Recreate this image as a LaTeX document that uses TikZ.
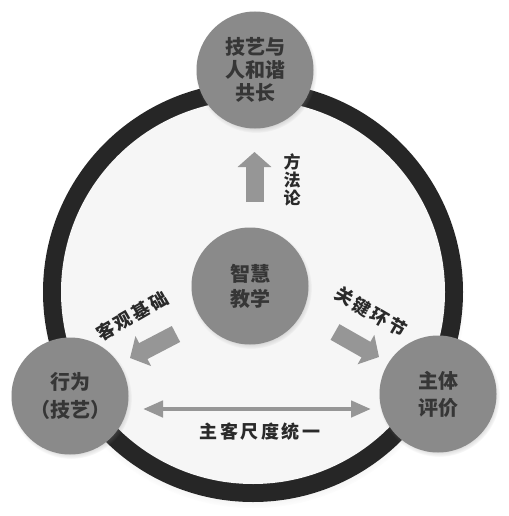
\documentclass[tikz,border=0pt]{standalone}
\usepackage{fontspec}
\newfontfamily\cjk{Noto Sans CJK SC}
\usetikzlibrary{arrows.meta,shadows,fadings}
\definecolor{ringc}{HTML}{262626}
\definecolor{innerc}{HTML}{F6F6F6}
\definecolor{circc}{HTML}{8A8A8A}
\definecolor{txtc}{HTML}{363636}
\definecolor{arrc}{HTML}{969696}
\definecolor{lblc}{HTML}{2A2A2A}
\newcommand\gapc{\hspace{2.5pt}}
\tikzset{
  circ/.style={circle, fill=circc, minimum size=117pt, inner sep=0pt, align=center,
    text=txtc, circular drop shadow={shadow scale=1.04, opacity=0.45, shadow xshift=1pt, shadow yshift=-2pt}},
  blockarr/.style={draw=arrc, line width=18pt, -{Triangle[length=15pt,width=33pt]}},
  dblarr/.style={draw=arrc, line width=4.5pt, {Triangle[length=20pt,width=16pt]}-{Triangle[length=20pt,width=16pt]}},
  lbl/.style={text=lblc, font=\cjk\bfseries\fontsize{18}{19}\selectfont, inner sep=0pt},
}
\begin{document}
\begin{tikzpicture}[x=1pt,y=-1pt]
\useasboundingbox (0,0) rectangle (508,516);
\fill[white] (0,0) rectangle (508,516);
% ring
\node[circle, fill=ringc, minimum size=420pt, inner sep=0pt,
  circular drop shadow={shadow scale=1.01, opacity=0.35, shadow xshift=0pt, shadow yshift=-4pt}] (ringout) at (253,292) {};
\node[circle, fill=innerc, minimum size=384pt, inner sep=0pt] (ringin) at (ringout.center) {};
% circles
\node[circ, font=\cjk\bfseries\fontsize{20}{23}\selectfont] (top) at (255,70) {技艺与\\人和谐\\共长};
\node[circ, font=\cjk\bfseries\fontsize{20}{25}\selectfont] (mid) at (250,286) {智慧\\教学};
\node[circ, font=\cjk\bfseries\fontsize{20}{28}\selectfont] (left) at (70,396) {行为\\（技艺）};
\node[circ, font=\cjk\bfseries\fontsize{20}{27}\selectfont] (right) at (438,394) {主体\\评价};
% block arrows
\coordinate (upA) at (254.5,202);
\coordinate (upB) at (254.5,152);
\draw[blockarr] (upA) -- (upB);
\coordinate (lA) at (176,334);
\coordinate (lB) at (130,358);
\draw[blockarr] (lA) -- (lB);
\coordinate (rA) at (335,332);
\coordinate (rB) at (379,357);
\draw[blockarr] (rA) -- (rB);
% double arrow
\coordinate (dA) at (143,409);
\coordinate (dB) at (371,409);
\draw[dblarr] (dA) -- (dB);
% labels
\node[lbl, align=center, font=\cjk\bfseries\fontsize{17}{18}\selectfont] (lblup) at (292,180) {方\\法\\论};
\node[lbl, rotate=30] (lblleft) at (132,316) {客\gapc 观\gapc 基\gapc 础};
\node[lbl, rotate=-30] (lblright) at (371,312) {关\gapc 键\gapc 环\gapc 节};
\node[lbl] (lblbot) at (260,432) {主\gapc 客\gapc 尺\gapc 度\gapc 统\gapc 一};
\end{tikzpicture}
\end{document}
